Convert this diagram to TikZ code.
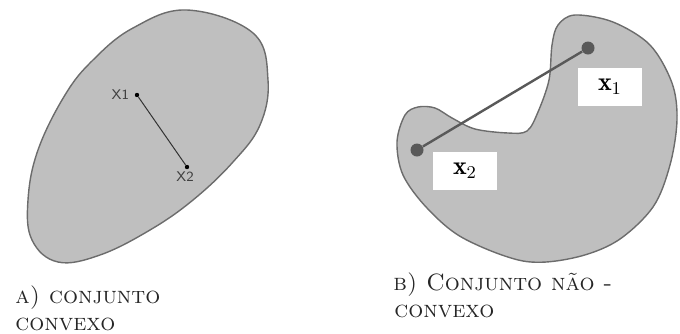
\documentclass[tikz,border=0pt]{standalone}
\usepackage{fontspec}
\usetikzlibrary{positioning}
\begin{document}
\begin{tikzpicture}[x=0.5pt,y=-0.5pt, every node/.style={font=\small},
    blob/.style={fill=gray!50, draw=gray!85!black, line width=0.7pt},
    caption/.style={font=\fontsize{11.8}{12}\selectfont\scshape, anchor=base west, inner sep=0pt, text=black!85},
    dotA/.style={circle, fill=black, inner sep=0pt, minimum size=2.2pt},
    dotB/.style={circle, fill=black!65, inner sep=0pt, minimum size=6.5pt},
    tagA/.style={font=\sffamily\fontsize{7}{7}\selectfont, text=black!75, inner sep=0.5pt},
    tagB/.style={fill=white, minimum width=32pt, minimum height=19pt, font=\fontsize{13}{14}\selectfont}]
  \useasboundingbox (0,0) rectangle (680,333);
  % a) convex set
  \draw[blob] plot[smooth cycle, tension=0.65] coordinates {
    (187,10) (253,33) (268,80) (260,125) (233,162)
    (193,200) (150,230) (100,255) (58,262) (32,240) (28,200)
    (38,150) (65,95) (93,60) (133,28)};
  \node[dotA] (p1) at (137,95) {};
  \node[dotA] (p2) at (187,167) {};
  \draw[black!80, line width=0.5pt] (p1) -- (p2);
  \node[tagA, left=2pt of p1] (t1) {X1};
  \node[tagA, below left=1pt and -5pt of p2] (t2) {X2};
  \node[caption] (capA1) at (15,303) {a) conjunto};
  \node[caption] (capA2) at (15,330) {convexo};
  % b) non-convex set
  \draw[blob] plot[smooth cycle, tension=0.55] coordinates {
    (575,15) (613,22) (650,45) (672,83) (677,120) (670,165)
    (653,207) (617,241) (573,258) (523,261) (463,238) (427,208)
    (403,175) (397,142) (405,115) (418,107) (435,108) (452,118)
    (475,129) (508,133) (527,131) (538,112) (549,80) (552,45)
    (558,25)};
  \node[tagB] (l1) at (610,87) {$\mathbf{x}_1$};
  \node[tagB] (l2) at (465,171) {$\mathbf{x}_2$};
  \node[dotB] (q1) at (588,48) {};
  \node[dotB] (q2) at (417,150) {};
  \draw[black!65, line width=1.2pt] (q1) -- (q2);
  \node[caption] (capB1) at (393,290) {b) Conjunto não -};
  \node[caption] (capB2) at (394,317) {convexo};
\end{tikzpicture}
\end{document}
